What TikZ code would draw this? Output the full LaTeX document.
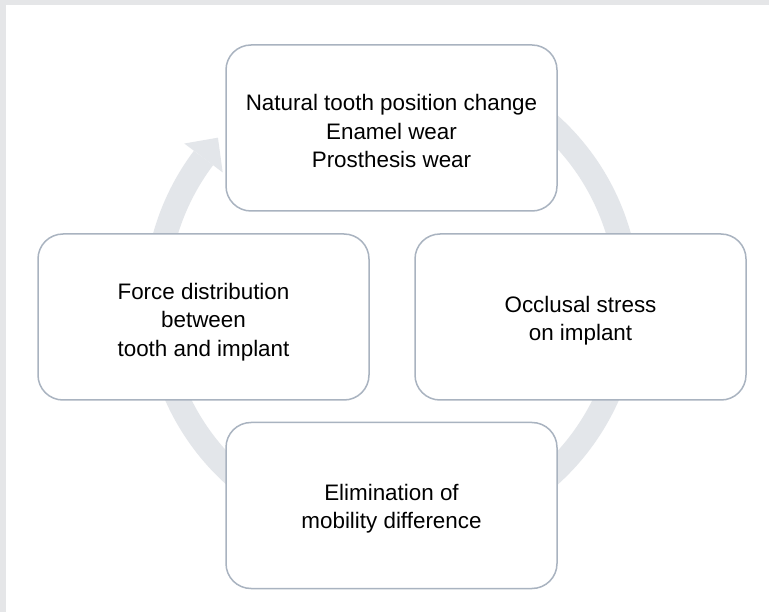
\documentclass[tikz,border=0pt]{standalone}
\usepackage{fontspec}
\setmainfont{Liberation Sans}
\usetikzlibrary{calc}
\begin{document}
\begin{tikzpicture}[x=1pt,y=-1pt,
  stagebox/.style={draw=boxline, line width=1.5pt, fill=white, rounded corners=25pt,
    minimum width=331pt, minimum height=166pt, inner sep=0pt},
  stagetext/.style={inner sep=0pt, align=center,
    font=\fontsize{22.4}{28.5}\selectfont, text=black}]
\definecolor{boxline}{HTML}{A9B3C0}
\definecolor{ringgray}{HTML}{E3E6EA}
\definecolor{framegray}{HTML}{E5E6E8}
\useasboundingbox (0,0) rectangle (769,612);
\fill[white] (0,0) rectangle (769,612);
\fill[framegray] (0,0) rectangle (769,5);
\fill[framegray] (0,0) rectangle (6,612);
% cycle arrow
\coordinate (C) at (392,300);
\draw[ringgray, line width=24pt] ($(C)+(-60:236)$) arc[start angle=-60, end angle=217, radius=236];
\fill[ringgray] ($(C)+(217:212)$) -- ($(C)+(217:260)$) -- ($(C)+(223:238)$) -- cycle;
% stages
\node[stagebox] (top) at (391.5,128) {};
\node[stagebox] (right) at (580.5,317) {};
\node[stagebox] (bottom) at (391.5,505.5) {};
\node[stagebox] (left) at (203.5,317) {};
\node[stagetext] (toptext) at ($(top)+(0,3)$) {Natural tooth position change\\Enamel wear\\Prosthesis wear};
\node[stagetext] (righttext) at ($(right)+(0,3.5)$) {Occlusal stress\\on implant};
\node[stagetext] (bottomtext) at ($(bottom)+(0,3)$) {Elimination of\\mobility difference};
\node[stagetext] (lefttext) at ($(left)+(0,5)$) {Force distribution\\between\\tooth and implant};
\end{tikzpicture}
\end{document}
